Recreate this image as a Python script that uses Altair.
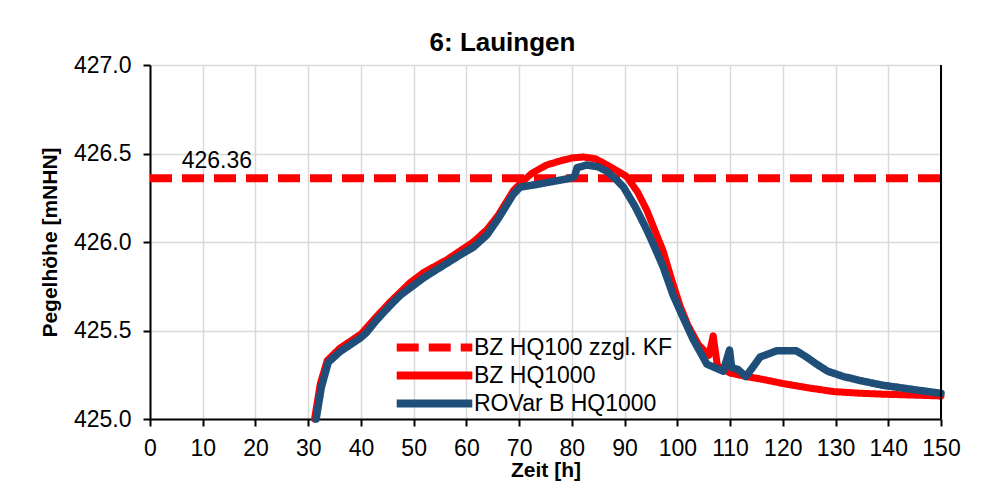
import altair as alt
import pandas as pd

series_names = ["BZ HQ100 zzgl. KF", "BZ HQ1000", "ROVar B HQ1000"]
series_colors = ["#FF0000", "#FF0000", "#1F4E79"]
series_dash = [[22, 10], [1, 0], [1, 0]]

# BZ HQ100 zzgl. KF (constant level)
kf_t = [0, 150]
kf_h = [426.36, 426.36]

# BZ HQ1000
bz_t = [31.2, 32.3, 33.6, 36, 40, 43, 45.5, 49.3, 52, 56.3, 61.3, 63.9, 66, 68.9, 70.2,
        72.5, 75.2, 78, 80, 82.2, 84.5, 87, 90.4, 92.5, 94.2, 97.3, 99, 100.5, 102, 104,
        106, 106.8, 107.6, 110, 113, 116, 120.1, 125, 129.6, 135, 139.1, 145, 150]
bz_h = [425.0, 425.2, 425.33, 425.40, 425.48, 425.58, 425.66, 425.77, 425.83, 425.90,
        426.00, 426.07, 426.15, 426.29, 426.33, 426.39, 426.435, 426.46, 426.475, 426.48,
        426.47, 426.43, 426.37, 426.28, 426.18, 425.95, 425.78, 425.64, 425.53, 425.42,
        425.36, 425.47, 425.30, 425.26, 425.24, 425.225, 425.20, 425.175, 425.155, 425.145,
        425.14, 425.135, 425.13]

# ROVar B HQ1000
ro_t = [31.5, 32.5, 33.8, 36, 38, 40, 41.1, 43, 45.5, 47.5, 49.3, 52, 56.3, 59, 61.3, 63.9,
        66, 68.9, 70.2, 73.3, 76, 79.7, 80.5, 81, 82.8, 85, 86.6, 88.5, 89.8, 92, 94.2, 96,
        97.3, 99.2, 101, 103, 105.6, 108.7, 109.9, 110.3, 111.5, 113, 114.5, 115.7, 118.8,
        122.6, 124.5, 126.4, 128.5, 131.5, 135, 139.1, 145, 150]
ro_h = [425.0, 425.18, 425.32, 425.38, 425.42, 425.46, 425.49, 425.56, 425.64, 425.70,
        425.74, 425.80, 425.88, 425.93, 425.97, 426.04, 426.13, 426.27, 426.31, 426.325,
        426.34, 426.36, 426.37, 426.42, 426.435, 426.425, 426.40, 426.35, 426.31, 426.20,
        426.07, 425.95, 425.86, 425.70, 425.58, 425.45, 425.31, 425.27, 425.39, 425.29,
        425.28, 425.24, 425.30, 425.35, 425.385, 425.385, 425.35, 425.31, 425.27, 425.24,
        425.215, 425.19, 425.165, 425.145]

label_text = ["426.36"]
label_t = [6.0]
label_h = [426.418]

x_min, x_max = 0, 150
y_min, y_max = 425.0, 427.0
x_ticks = list(range(0, 151, 10))
y_ticks = [425.0, 425.5, 426.0, 426.5, 427.0]

rows = []
for name, ts, hs in [(series_names[0], kf_t, kf_h), (series_names[1], bz_t, bz_h),
                     (series_names[2], ro_t, ro_h)]:
    for t, h in zip(ts, hs):
        rows.append({"series": name, "t": t, "h": h})
df = pd.DataFrame(rows)
lab = pd.DataFrame({"t": label_t, "h": label_h, "txt": label_text})

FONT = "Liberation Sans"

x_enc = alt.X("t:Q", scale=alt.Scale(domain=[x_min, x_max], nice=False),
              axis=alt.Axis(values=x_ticks, title="Zeit [h]", format="d",
                            labelOverlap=False, labelFlush=False))
y_enc = alt.Y("h:Q", scale=alt.Scale(domain=[y_min, y_max], nice=False, zero=False),
              axis=alt.Axis(values=y_ticks, format=".1f", title="Pegelhöhe [mNHN]"))
color_enc = alt.Color("series:N", scale=alt.Scale(domain=series_names, range=series_colors),
                      legend=alt.Legend(title=None, orient="none", legendX=273, legendY=271,
                                        symbolType="M-5.4,0H5.4", symbolSize=196,
                                        symbolStrokeWidth=8, labelFontSize=23,
                                        labelFont=FONT, labelColor="black", rowPadding=-7,
                                        labelOffset=28, padding=0, labelLimit=400))
dash_enc = alt.StrokeDash("series:N", scale=alt.Scale(domain=series_names, range=series_dash),
                          legend=alt.Legend(title=None))

def line_layer(name, width, cap):
    return alt.Chart(df).transform_filter(alt.datum.series == name).mark_line(
        strokeWidth=width, strokeCap=cap, strokeJoin="round"
    ).encode(x=x_enc, y=y_enc, color=color_enc, strokeDash=dash_enc)

kf_layer = line_layer(series_names[0], 8, "butt")
bz_layer = line_layer(series_names[1], 7, "round")
ro_layer = line_layer(series_names[2], 7.5, "round")

text_layer = alt.Chart(lab).mark_text(
    align="left", baseline="alphabetic", fontSize=23, font=FONT, color="black"
).encode(x=alt.X("t:Q"), y=alt.Y("h:Q"), text="txt:N")

# right frame line of the plot area
frame_layer = alt.Chart(lab).mark_rule(color="black", strokeWidth=2).encode(
    x=alt.datum(x_max), y=alt.datum(y_min), y2=alt.datum(y_max)
)

chart = alt.layer(kf_layer, bz_layer, ro_layer, text_layer, frame_layer).properties(
    width=791, height=354,
    background="white",
    title=alt.TitleParams("6: Lauingen", font=FONT, fontSize=26, fontWeight="bold",
                          color="black", offset=12, dx=-43, dy=14),
    autosize=alt.AutoSizeParams(type="none"),
    padding={"left": 142, "top": 57, "right": 40, "bottom": 66},
).configure_axis(
    labelFont=FONT, labelFontSize=23, labelColor="black",
    titleFont=FONT, titleFontSize=21, titleFontWeight="bold", titleColor="black",
    domainColor="black", domainWidth=2, tickColor="black", tickWidth=2, tickSize=7,
    gridColor="#d9d9d9", gridWidth=1.5,
).configure_axisX(
    labelPadding=11, titlePadding=-1,
).configure_axisY(
    labelPadding=12, titlePadding=13,
).configure_view(stroke=None)

chart.save("out.html", embed_options={"renderer": "svg", "actions": False})
